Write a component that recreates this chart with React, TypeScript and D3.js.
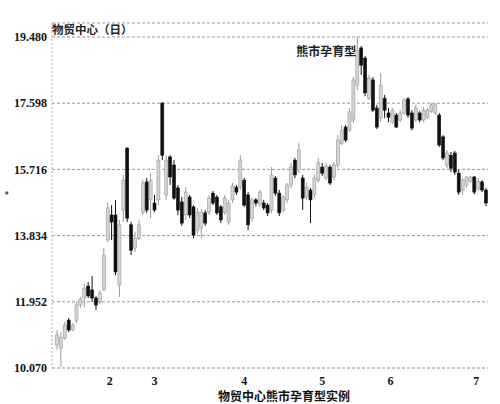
import React, { useRef, useEffect } from 'react'
import * as d3 from 'd3'

// daily candles, 物贸中心
const opens = [
  10.72, 10.64, 10.92, 11.43, 11.15, 11.43, 11.86, 12.06, 12.4, 12.29,
  12.06, 11.95, 12.29, 13.71, 14.42, 14.42, 12.43, 14.56, 16.32, 14.14,
  13.48, 13.76, 14.5, 15.36, 14.85, 14.76, 14.85, 17.6, 14.99, 16.07,
  15.84, 15.19, 14.79, 14.42, 14.93, 14.65, 13.99, 14.05, 14.48, 14.5,
  15.04, 14.93, 14.65, 14.5, 14.22, 14.85, 15.21, 15.21, 15.41, 14.99,
  14.33, 14.85, 14.73, 14.76, 14.7, 14.56, 15.47, 15.04, 14.56, 14.85,
  15.27, 15.98, 15.7, 15.47, 14.93, 15.13, 14.99, 15.41, 15.78, 15.47,
  15.78, 15.5, 15.84, 16.46, 16.92, 16.83, 17.12, 18.11, 19.17, 18.88,
  17.74, 18.26, 17.46, 17.18, 17.74, 17.32, 17.06, 17.26, 17.12, 17.32,
  17.72, 17.32, 17.12, 17.32, 17.12, 17.2, 17.37, 17.32, 17.26, 16.64,
  15.84, 16.12, 16.18, 15.61, 15.13, 15.27, 15.38, 15.5, 15.16, 15.36, 15.13,
]
const closes = [
  11.01, 10.95, 11.29, 11.15, 11.29, 11.86, 12.03, 12.34, 12.12, 12.06,
  11.86, 12.2, 13.28, 14.62, 14.22, 12.8, 14.14, 15.41, 14.33, 13.42,
  13.76, 14.14, 15.33, 14.56, 15.41, 14.56, 15.98, 16.12, 15.98, 15.5,
  14.9, 14.56, 14.19, 15.07, 14.42, 13.85, 14.5, 14.5, 14.19, 14.9,
  14.76, 14.48, 14.28, 14.9, 14.76, 15.24, 15.07, 15.98, 14.7, 14.14,
  14.85, 14.76, 15.07, 14.62, 14.48, 15.56, 15.04, 14.48, 14.93, 15.27,
  15.78, 15.56, 16.27, 14.9, 15.21, 14.85, 15.47, 15.9, 15.61, 15.81,
  15.33, 15.84, 16.55, 16.83, 16.55, 17.35, 18.26, 19.11, 18.68, 17.89,
  18.31, 17.4, 16.92, 18.11, 17.4, 17.2, 17.4, 16.92, 17.32, 17.69,
  17.26, 16.89, 17.46, 17.12, 17.4, 17.4, 17.55, 17.55, 16.41, 16.04,
  16.18, 15.75, 15.64, 15.07, 15.41, 15.5, 15.5, 15.07, 15.38, 15.13, 14.76,
]
const highs = [
  11.15, 11.09, 11.38, 11.49, 11.35, 11.95, 12.09, 12.46, 12.51, 12.68,
  12.12, 12.29, 13.48, 14.79, 14.7, 14.85, 14.28, 15.56, 16.35, 14.22,
  13.94, 14.28, 15.41, 15.47, 15.61, 14.99, 16.12, 17.63, 16.12, 16.12,
  15.98, 15.27, 14.93, 15.21, 14.99, 14.7, 14.62, 14.59, 14.56, 14.99,
  15.1, 14.99, 14.7, 14.99, 14.85, 15.33, 15.27, 16.12, 15.47, 15.07,
  14.93, 14.9, 15.13, 14.85, 14.76, 15.78, 15.53, 15.13, 14.99, 15.33,
  15.9, 16.04, 16.46, 15.56, 15.33, 15.19, 15.56, 16.04, 15.9, 15.9,
  15.84, 15.93, 16.69, 16.98, 16.98, 17.46, 18.34, 19.48, 19.22, 18.94,
  18.4, 18.34, 17.55, 18.45, 17.83, 17.46, 17.46, 17.32, 17.4, 17.74,
  17.77, 17.4, 17.55, 17.37, 17.49, 17.46, 17.6, 17.6, 17.32, 16.69,
  16.27, 16.21, 16.24, 15.7, 15.47, 15.53, 15.53, 15.53, 15.47, 15.41, 15.19,
]
const lows = [
  10.58, 10.1, 10.87, 11.09, 11.12, 11.35, 11.78, 11.8, 12.06, 11.95,
  11.72, 11.89, 12.26, 13.65, 13.71, 12.71, 12.09, 14.22, 14.22, 13.28,
  13.37, 13.71, 14.42, 14.48, 14.33, 14.5, 14.7, 15.98, 14.85, 15.27,
  14.85, 14.42, 14.11, 14.28, 14.33, 13.76, 13.88, 13.76, 14.11, 14.42,
  14.7, 14.42, 14.19, 14.42, 14.14, 14.76, 14.99, 15.13, 14.65, 13.99,
  14.22, 14.67, 14.65, 14.56, 14.39, 14.48, 14.96, 14.39, 14.5, 14.76,
  15.19, 15.47, 15.61, 14.56, 14.85, 14.19, 14.9, 15.33, 15.53, 15.41,
  15.27, 15.41, 15.75, 16.41, 16.49, 16.78, 17.03, 17.97, 18.4, 17.8,
  17.69, 17.35, 16.86, 17.06, 17.18, 17.06, 17.01, 16.89, 17.06, 17.26,
  17.18, 16.83, 17.06, 17.06, 17.06, 17.15, 17.32, 17.26, 16.35, 15.98,
  15.75, 15.64, 15.56, 14.99, 14.99, 15.19, 15.33, 15.01, 15.1, 15.07, 14.67,
]

// price axis ticks and month boundaries (candle index)
const priceTicks = [10.07, 11.952, 13.834, 15.716, 17.598, 19.48]
const monthLabels = ['2', '3', '4', '5', '6', '7']
const monthIdx = [13.5, 25, 48, 68, 85.5, 107.5]

const title = '物贸中心（日）'
const note = '熊市孕育型'
const xTitle = '物贸中心熊市孕育型实例'

const W = 500
const H = 404
const left = 52
const right = 488
const top = 23
const bottom = 368
const cjk = '"Noto Sans CJK SC", "Noto Sans", sans-serif'
const serif = '"Liberation Serif", "Times New Roman", serif'

function App() {
  const svgRef = useRef(null)

  useEffect(() => {
    const svg = d3.select(svgRef.current)
    svg.selectAll('*').remove()

    const n = opens.length
    const x = d3.scaleLinear().domain([0, n - 1]).range([57, 486])
    const y = d3.scaleLinear().domain([10.07, 19.48]).range([bottom, 37])

    const grid = svg.append('g')
    //top frame line
    grid
      .append('line')
      .attr('x1', left)
      .attr('x2', right)
      .attr('y1', top)
      .attr('y2', top)
      .attr('stroke', '#999')
      .attr('stroke-dasharray', '3,2')
    //left axis line
    grid
      .append('line')
      .attr('x1', left)
      .attr('x2', left)
      .attr('y1', top)
      .attr('y2', bottom)
      .attr('stroke', '#aaa')
      .attr('stroke-dasharray', '2,2')
    //horizontal grid lines
    grid
      .selectAll('line.h')
      .data(priceTicks)
      .join('line')
      .attr('class', 'h')
      .attr('x1', left)
      .attr('x2', right)
      .attr('y1', (d) => y(d))
      .attr('y2', (d) => y(d))
      .attr('stroke', (d, i) => (i === 0 ? '#888' : '#999'))
      .attr('stroke-dasharray', '3,2')

    //y labels
    svg
      .append('g')
      .selectAll('text')
      .data(priceTicks)
      .join('text')
      .attr('x', left - 5)
      .attr('y', (d) => y(d))
      .attr('dy', '0.35em')
      .attr('text-anchor', 'end')
      .attr('font-family', serif)
      .attr('font-weight', 'bold')
      .attr('font-size', 12)
      .attr('fill', '#111')
      .text((d) => d.toFixed(3))

    //x labels
    svg
      .append('g')
      .selectAll('text')
      .data(monthIdx)
      .join('text')
      .attr('x', (d) => x(d))
      .attr('y', 385)
      .attr('text-anchor', 'middle')
      .attr('font-family', serif)
      .attr('font-weight', 'bold')
      .attr('font-size', 12)
      .attr('fill', '#111')
      .text((d, i) => monthLabels[i])

    //candles
    const idx = d3.range(n)
    const up = (i: number) => closes[i] >= opens[i]
    const candles = svg.append('g')
    candles
      .selectAll('line')
      .data(idx)
      .join('line')
      .attr('x1', (i) => x(i))
      .attr('x2', (i) => x(i))
      .attr('y1', (i) => y(highs[i]))
      .attr('y2', (i) => y(lows[i]))
      .attr('stroke', (i) => (up(i) ? '#9a9a9a' : '#111'))
      .attr('stroke-width', 1)
    candles
      .selectAll('rect')
      .data(idx)
      .join('rect')
      .attr('x', (i) => x(i) - 1.5)
      .attr('width', 3)
      .attr('y', (i) => y(Math.max(opens[i], closes[i])))
      .attr('height', (i) =>
        Math.max(1, Math.abs(y(opens[i]) - y(closes[i])))
      )
      .attr('fill', (i) => (up(i) ? '#d4d4d4' : '#111'))
      .attr('stroke', (i) => (up(i) ? '#9a9a9a' : '#111'))
      .attr('stroke-width', 0.6)

    //texts
    svg
      .append('text')
      .attr('x', left)
      .attr('y', 34)
      .attr('font-family', cjk)
      .attr('font-weight', 'bold')
      .attr('font-size', 11.5)
      .attr('fill', '#222')
      .text(title)
    svg
      .append('text')
      .attr('x', x(77) - 1)
      .attr('y', 56)
      .attr('text-anchor', 'end')
      .attr('font-family', cjk)
      .attr('font-weight', 'bold')
      .attr('font-size', 12)
      .attr('fill', '#222')
      .text(note)
    svg
      .append('text')
      .attr('x', 284)
      .attr('y', 401)
      .attr('text-anchor', 'middle')
      .attr('font-family', cjk)
      .attr('font-weight', 'bold')
      .attr('font-size', 12)
      .attr('fill', '#111')
      .text(xTitle)
    svg
      .append('text')
      .attr('x', 5)
      .attr('y', 195)
      .attr('font-family', serif)
      .attr('font-weight', 'bold')
      .attr('font-size', 7)
      .attr('fill', '#222')
      .text('#')
  }, [])

  return (
    <svg
      ref={svgRef}
      width={W}
      height={H}
      style={{ position: 'absolute', left: 0, top: 0, background: '#fff' }}
    />
  )
}

export default App
